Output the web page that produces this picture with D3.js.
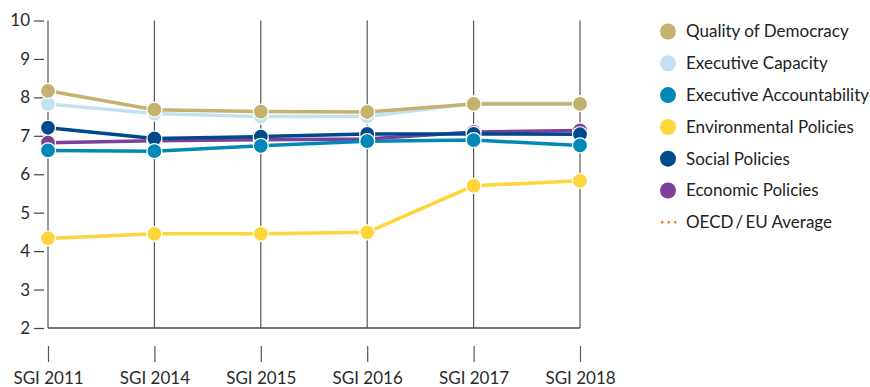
<!DOCTYPE html>
<html>
<head>
<meta charset="utf-8">
<script src="https://cdn.jsdelivr.net/npm/d3@7/dist/d3.min.js"></script>
<style>
  html, body { margin: 0; padding: 0; background: #fff; }
  svg { display: block; font-family: Lato, "Open Sans", sans-serif; }
</style>
</head>
<body>
<svg id="chart" width="870" height="387"></svg>
<script>
const editions = ["SGI 2011", "SGI 2014", "SGI 2015", "SGI 2016", "SGI 2017", "SGI 2018"];
const yTicks = [2, 3, 4, 5, 6, 7, 8, 9, 10];

const qualityOfDemocracy      = [8.17, 7.68, 7.63, 7.62, 7.83, 7.83];
const executiveCapacity       = [7.83, 7.58, 7.50, 7.50, 7.85, 7.85];
const executiveAccountability = [6.62, 6.60, 6.74, 6.86, 6.89, 6.75];
const environmentalPolicies   = [4.33, 4.45, 4.45, 4.49, 5.70, 5.83];
const socialPolicies          = [7.21, 6.93, 6.98, 7.05, 7.05, 7.04];
const economicPolicies        = [6.82, 6.87, 6.90, 6.92, 7.10, 7.14];

const series = [
  { name: "Quality of Democracy",      color: "#c4b26e", values: qualityOfDemocracy },
  { name: "Executive Capacity",        color: "#c2e1f1", values: executiveCapacity },
  { name: "Executive Accountability",  color: "#0089b6", values: executiveAccountability },
  { name: "Environmental Policies",    color: "#fed53a", values: environmentalPolicies },
  { name: "Social Policies",           color: "#004a8c", values: socialPolicies },
  { name: "Economic Policies",         color: "#7e3f98", values: economicPolicies }
];

const svg = d3.select("#chart");
const plotLeft = 48, plotRight = 580, plotTop = 20.5, plotBottom = 328;

const x = d3.scalePoint().domain(editions).range([plotLeft, plotRight]);
const y = d3.scaleLinear().domain([2, 10]).range([plotBottom, plotTop]);

// vertical guides at each edition
svg.append("g").selectAll("line").data(editions).join("line")
  .attr("x1", d => x(d)).attr("x2", d => x(d))
  .attr("y1", plotTop).attr("y2", plotBottom)
  .attr("stroke", "#555").attr("stroke-width", 1.2);

// baseline
svg.append("line")
  .attr("x1", plotLeft).attr("x2", plotRight).attr("y1", plotBottom).attr("y2", plotBottom)
  .attr("stroke", "#444").attr("stroke-width", 1.4);

// y axis
const yAxis = svg.append("g").attr("transform", `translate(${plotLeft - 4},0)`)
  .call(d3.axisLeft(y).tickValues(yTicks).tickSize(10).tickPadding(4));
yAxis.select(".domain").remove();
yAxis.selectAll(".tick line").attr("stroke", "#444").attr("stroke-width", 1.2);
yAxis.selectAll(".tick text").attr("fill", "#2a2a2a").style("font-size", "17px").style("font-family", "Lato, sans-serif");

// x axis
const xAxis = svg.append("g").attr("transform", `translate(0,${plotBottom + 18})`)
  .call(d3.axisBottom(x).tickSize(16).tickPadding(10));
xAxis.select(".domain").remove();
xAxis.selectAll(".tick line").attr("stroke", "#555").attr("stroke-width", 1.2);
xAxis.selectAll(".tick text").attr("fill", "#2a2a2a").style("font-size", "17px").style("font-family", "Lato, sans-serif");

// series, drawn from the last legend entry up so the first sits on top
const line = d3.line().x((d, i) => x(editions[i])).y(d => y(d));
const plot = svg.append("g");
series.slice().reverse().forEach(s => {
  const g = plot.append("g");
  g.append("path").datum(s.values)
    .attr("d", line).attr("fill", "none")
    .attr("stroke", s.color).attr("stroke-width", 3.5);
  g.selectAll("circle").data(s.values).join("circle")
    .attr("cx", (d, i) => x(editions[i])).attr("cy", d => y(d))
    .attr("r", 7.5).attr("fill", s.color)
    .attr("stroke", "#fff").attr("stroke-width", 1.2);
});

// legend
const legend = svg.append("g").attr("transform", "translate(668,31.5)");
const rowH = 31.8;
series.forEach((s, i) => {
  const row = legend.append("g").attr("transform", `translate(0,${i * rowH})`);
  row.append("circle").attr("r", 8).attr("fill", s.color);
  row.append("text").attr("x", 18).attr("dy", "0.35em")
    .attr("fill", "#222").style("font-size", "17px").text(s.name);
});
const avgRow = legend.append("g").attr("transform", `translate(0,${6 * rowH})`);
avgRow.append("line").attr("x1", -7).attr("x2", 10).attr("y1", 0).attr("y2", 0)
  .attr("stroke", "#f08a3a").attr("stroke-width", 2.5).attr("stroke-dasharray", "2.5,4");
avgRow.append("text").attr("x", 18).attr("dy", "0.35em")
  .attr("fill", "#222").style("font-size", "17px").text("OECD\u2009/\u2009EU Average");
</script>
</body>
</html>
